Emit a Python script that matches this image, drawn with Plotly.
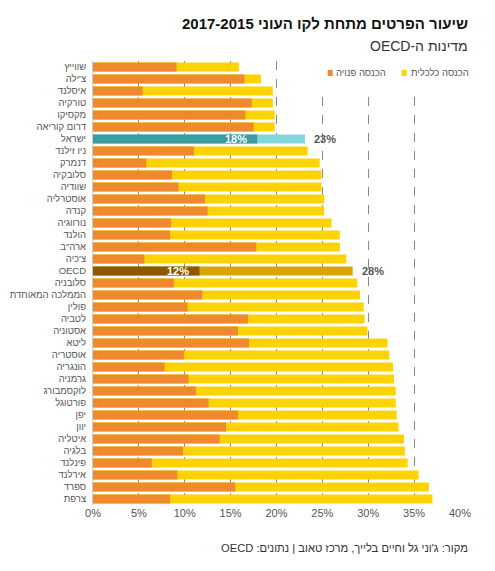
import plotly.graph_objects as go

RLE, PDF = "\u202b", "\u202c"

countries = ["שווייץ", "צ'ילה", "איסלנד", "טורקיה", "מקסיקו", "דרום קוריאה", "ישראל",
             "ניו זילנד", "דנמרק", "סלובקיה", "שוודיה", "אוסטרליה", "קנדה", "נורווגיה",
             "הולנד", 'ארה"ב', "צ'כיה", "OECD", "סלובניה", "הממלכה המאוחדת", "פולין",
             "לטביה", "אסטוניה", "ליטא", "אוסטריה", "הונגריה", "גרמניה", "לוקסמבורג",
             "פורטוגל", "יפן", "יוון", "איטליה", "בלגיה", "פינלנד", "אירלנד", "ספרד", "צרפת"]

# disposable income poverty rate (%)
disposable = [9.1, 16.5, 5.4, 17.3, 16.6, 17.5, 17.9,
              11.0, 5.8, 8.6, 9.3, 12.2, 12.5, 8.5,
              8.4, 17.8, 5.6, 11.6, 8.8, 11.9, 10.3,
              16.9, 15.8, 17.0, 9.9, 7.8, 10.4, 11.2,
              12.6, 15.8, 14.5, 13.8, 9.8, 6.4, 9.2, 15.5, 8.4]

# market income poverty rate (%)
market = [15.9, 18.3, 19.6, 19.6, 19.8, 19.8, 23.1,
          23.4, 24.7, 24.9, 24.9, 25.2, 25.2, 26.0,
          26.9, 26.9, 27.6, 28.3, 28.8, 29.1, 29.5,
          29.6, 29.9, 32.1, 32.3, 32.7, 32.8, 33.0,
          33.0, 33.1, 33.3, 33.9, 34.0, 34.3, 35.5, 36.6, 37.0]

ticks = [0, 5, 10, 15, 20, 25, 30, 35, 40]
highlight = ["ישראל", "OECD"]

ORANGE, YELLOW = "#F0892E", "#FFD200"
special_front = {"ישראל": "#3A9BA0", "OECD": "#8C5700"}
special_back = {"ישראל": "#80D6DC", "OECD": "#D9A300"}

front_colors = [special_front.get(c, ORANGE) for c in countries]
back_colors = [special_back.get(c, YELLOW) for c in countries]

FONT = "Liberation Sans, Arial"

fig = go.Figure()
fig.add_trace(go.Bar(
    y=countries, x=market, orientation="h", name="הכנסה כלכלית",
    marker=dict(color=back_colors, line=dict(width=0)), width=0.74,
))
fig.add_trace(go.Bar(
    y=countries, x=disposable, orientation="h", name="הכנסה פנויה",
    marker=dict(color=front_colors, line=dict(width=0)), width=0.74,
))

annotations = []
for c in highlight:
    i = countries.index(c)
    annotations.append(dict(x=disposable[i], y=c, xref="x", yref="y", text=f"<b>{round(disposable[i])}%</b>",
                            xanchor="right", xshift=-8, showarrow=False,
                            font=dict(size=11, color="white", family=FONT)))
    annotations.append(dict(x=market[i], y=c, xref="x", yref="y", text=f"<b>{round(market[i])}%</b>",
                            xanchor="left", xshift=7, showarrow=False,
                            font=dict(size=11, color="#555555", family=FONT)))

# header, legend and source
annotations += [
    dict(text=RLE + "<b>שיעור הפרטים מתחת לקו העוני 2017-2015</b>" + PDF,
         xref="paper", yref="paper", x=1.026, y=1.085, xanchor="right", yanchor="middle",
         showarrow=False, font=dict(size=15, color="#111111", family=FONT)),
    dict(text=RLE + "מדינות ה-OECD" + PDF,
         xref="paper", yref="paper", x=1.026, y=1.034, xanchor="right", yanchor="middle",
         showarrow=False, font=dict(size=14, color="#333333", family=FONT)),
    dict(text=RLE + "מקור: ג'וני גל וחיים בלייך, מרכז טאוב | נתונים: OECD" + PDF,
         xref="paper", yref="paper", x=1.026, y=-0.097, xanchor="right", yanchor="middle",
         showarrow=False, font=dict(size=11.2, color="#333333", family=FONT)),
    dict(text="הכנסה פנויה", xref="paper", yref="paper", x=0.658, y=0.973, xanchor="left",
         yanchor="middle", showarrow=False, font=dict(size=9.5, color="#555555", family=FONT)),
    dict(text="הכנסה כלכלית", xref="paper", yref="paper", x=0.860, y=0.973, xanchor="left",
         yanchor="middle", showarrow=False, font=dict(size=9.5, color="#555555", family=FONT)),
]

shapes = [
    # white box behind the legend hides the grid there
    dict(type="rect", xref="x", yref="paper", x0=22, x1=41, y0=0.923, y1=1.0,
         fillcolor="white", line=dict(width=0), layer="above"),
    # legend swatches
    dict(type="rect", xref="paper", yref="paper", x0=0.6395, x1=0.6532, y0=0.9662, y1=0.9797,
         fillcolor=ORANGE, line=dict(width=0)),
    dict(type="rect", xref="paper", yref="paper", x0=0.8411, x1=0.8547, y0=0.9662, y1=0.9797,
         fillcolor=YELLOW, line=dict(width=0)),
]

fig.update_layout(
    width=495, height=571,
    barmode="overlay",
    plot_bgcolor="white", paper_bgcolor="white",
    margin=dict(l=93, r=35, t=61, b=66),
    font=dict(family=FONT, color="#555555"),
    showlegend=False,
    xaxis=dict(range=[0, 40], tickvals=ticks, ticktext=[f"{t}%" for t in ticks],
               showgrid=True, gridcolor="#888888", griddash="dash", gridwidth=1,
               zeroline=False, tickfont=dict(size=11, color="#555555"), ticks="",
               automargin=False),
    yaxis=dict(autorange="reversed", showline=True, linecolor="#cccccc", linewidth=1,
               tickfont=dict(size=9.5, color="#555555"), ticks="outside", ticklen=4,
               tickcolor="white", showgrid=False, automargin=False),
    shapes=shapes,
    annotations=annotations,
)

fig.write_html("out.html", config={"displayModeBar": False},
               post_script="document.body.style.margin='0';")
